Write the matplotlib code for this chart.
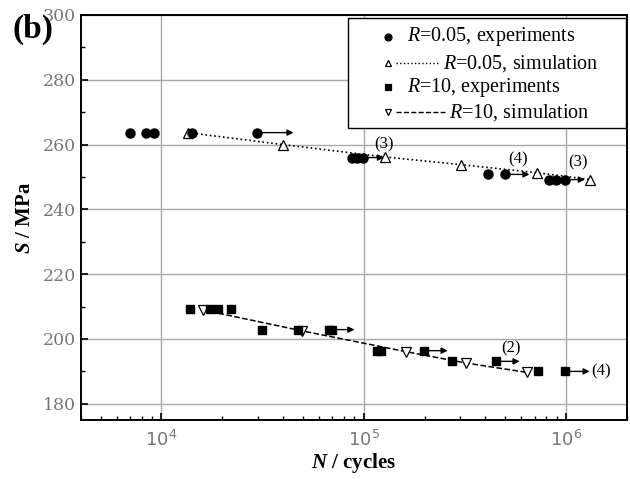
import numpy as np
import matplotlib.pyplot as plt
from matplotlib.lines import Line2D
from matplotlib.patches import Rectangle
from matplotlib.ticker import LogLocator, MultipleLocator, NullFormatter

plt.rcParams["mathtext.fontset"] = "custom"
plt.rcParams["mathtext.it"] = "Liberation Serif:italic"
plt.rcParams["mathtext.rm"] = "Liberation Serif"
plt.rcParams["mathtext.bfit"] = "Liberation Serif:italic:bold"

# R=0.05 experiments (circles)
n_exp1 = [7000, 8400, 9200, 14200, 29800, 87500, 92700, 99400, 413000, 499000,
          822000, 897000, 993000]
s_exp1 = [263.7, 263.7, 263.7, 263.7, 263.7, 256.0, 256.0, 256.0, 250.8, 250.8,
          249.2, 249.2, 249.2]
# runouts: (start N, end N, S)
runout1 = [(29800, 45000, 263.7), (99400, 126000, 256.0),
           (499000, 660000, 250.8), (993000, 1240000, 249.2)]

# R=0.05 simulation (up triangles)
n_sim1 = [13500, 39900, 126800, 302900, 723000, 1320000]
s_sim1 = [263.7, 260.0, 256.2, 253.8, 251.3, 249.2]

# R=10 experiments (squares)
n_exp2 = [13900, 17400, 19100, 22000, 31500, 47400, 67300, 69500, 116400, 122200,
          199000, 274000, 449000, 728000, 984000]
s_exp2 = [209.2, 209.2, 209.2, 209.2, 202.9, 202.9, 202.9, 202.9, 196.4, 196.4,
          196.4, 193.1, 193.1, 190.0, 190.0]
runout2 = [(69500, 90000, 202.9), (199000, 260000, 196.4),
           (449000, 590000, 193.1), (984000, 1310000, 190.0)]

# R=10 simulation (down triangles)
n_sim2 = [15950, 49600, 161500, 319000, 640000]
s_sim2 = [209.0, 202.5, 196.1, 192.6, 189.7]

# notes on runout tests: (N, S, text)
notes = [(125700, 260.0, "(3)"), (581000, 255.4, "(4)"), (1146000, 254.5, "(3)"),
         (535000, 197.1, "(2)")]

serif = "Liberation Serif"

fig = plt.figure(figsize=(6.3, 4.79), dpi=100)
ax = fig.add_axes([0.1286, 0.1232, 0.8664, 0.8455])

ax.plot(n_exp1, s_exp1, "o", color="k", ms=6.5, ls="none", zorder=4)
ax.plot(n_sim1, s_sim1, marker="^", color="k", mfc="white", ms=6.5, mew=0.9,
        ls=":", lw=1.2, zorder=3)
ax.plot(n_exp2, s_exp2, "s", color="k", ms=6, ls="none", zorder=4)
ax.plot(n_sim2, s_sim2, marker="v", color="k", mfc="white", ms=6.5, mew=0.9,
        ls="--", lw=1.1, zorder=3)

for n0, n1, s in runout1 + runout2:
    ax.annotate("", xy=(n1, s), xytext=(n0, s),
                arrowprops=dict(arrowstyle="-|>", color="k", lw=1.0,
                                mutation_scale=9, shrinkA=0, shrinkB=0),
                zorder=5)

for n, s, t in notes:
    ax.text(n, s, t, fontsize=12, family=serif, ha="center", va="center")
ax.text(1330000, 190.0, "(4)", fontsize=12, family=serif, ha="left", va="center")

ax.set_xscale("log")
ax.set_xlim(4000, 2.0e6)
ax.set_ylim(175, 300)
ax.yaxis.set_major_locator(MultipleLocator(20))
ax.yaxis.set_minor_locator(MultipleLocator(10))
ax.xaxis.set_minor_locator(LogLocator(base=10, subs=np.arange(2, 10)))
ax.xaxis.set_minor_formatter(NullFormatter())

ax.grid(True, which="major", color="#a8a8a8", lw=1.0)
ax.set_axisbelow(True)
for sp in ax.spines.values():
    sp.set_linewidth(1.4)

ax.tick_params(axis="both", which="major", direction="in", length=5, width=1.2,
               colors="k", labelcolor="#777777", labelsize=13)
ax.tick_params(axis="both", which="minor", direction="in", length=3, width=1.0)
ax.tick_params(top=False, right=False, which="both")
ax.tick_params(axis="x", pad=7)
for lab in ax.get_yticklabels():
    lab.set_family("DejaVu Serif")
    lab.set_fontsize(12.5)

ax.set_xlabel("$\\mathbfit{N}$ / cycles", fontsize=15, fontweight="bold",
              family=serif, labelpad=1)
ax.set_ylabel("$\\mathbfit{S}$ / MPa", fontsize=15, fontweight="bold",
              family=serif, labelpad=6)

# legend drawn in Origin style: marker, line sample, then text
def px2ax(px, py):
    return (px - 81) / 546, (420 - py) / 405

x0, y0 = px2ax(348, 128)
x1, y1 = px2ax(626, 18)
ax.add_patch(Rectangle((x0, y0), x1 - x0, y1 - y0, transform=ax.transAxes,
                       facecolor="white", edgecolor="k", lw=1.0, zorder=6))
rows = [
    ("o", "none", 36.7, 407, "$R$=0.05, experiments", None),
    ("^", "white", 63.3, 443, "$R$=0.05, simulation", ":"),
    ("s", "none", 87.3, 407, "$R$=10, experiments", None),
    ("v", "white", 112.3, 449, "$R$=10, simulation", "--"),
]
for mk, mfc, py, tx, label, ls in rows:
    mx, my = px2ax(388, py)
    fill = "k" if mfc == "none" else "white"
    ax.add_line(Line2D([mx], [my], marker=mk, color="k", mfc=fill, ms=5, mew=0.9,
                       ls="none", transform=ax.transAxes, zorder=7))
    if ls:
        lx0, _ = px2ax(396, py)
        lx1, _ = px2ax(tx - 4, py)
        ax.add_line(Line2D([lx0, lx1], [my, my], color="k", ls=ls, lw=1.0,
                           transform=ax.transAxes, zorder=7))
    ttx, _ = px2ax(tx, py)
    ax.text(ttx, my, label, fontsize=14.5, family=serif, ha="left", va="center",
            transform=ax.transAxes, zorder=8)

fig.text(0.02, 0.972, "(b)", fontsize=24, fontweight="bold", family=serif,
         ha="left", va="top")

fig.savefig("out.png", dpi=100)
